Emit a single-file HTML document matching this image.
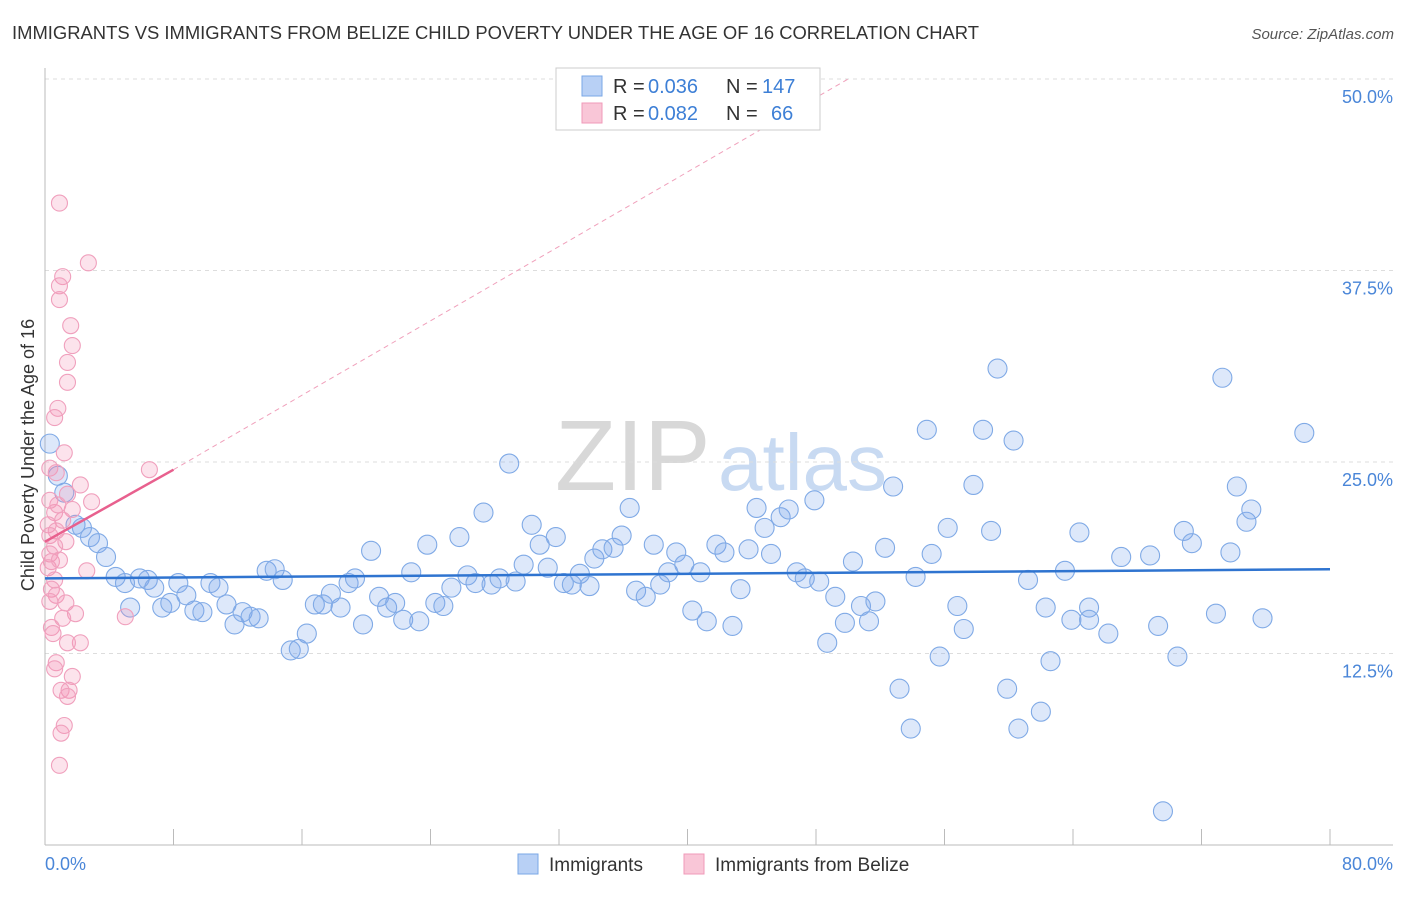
<!DOCTYPE html>
<html><head><meta charset="utf-8"><style>
body{margin:0;background:#fff;font-family:"Liberation Sans",sans-serif;}
svg text{font-family:"Liberation Sans",sans-serif;}
</style></head><body>
<svg id="chart" width="1406" height="892">
<text x="12" y="39" font-size="18" fill="#333" textLength="967" lengthAdjust="spacingAndGlyphs">IMMIGRANTS VS IMMIGRANTS FROM BELIZE CHILD POVERTY UNDER THE AGE OF 16 CORRELATION CHART</text>
<text x="1394" y="39" font-size="15" fill="#555" font-style="italic" text-anchor="end">Source: ZipAtlas.com</text>
<text x="555" y="490" font-size="100" fill="#d8d8d8" font-family="Liberation Serif">ZIP</text>
<text x="718" y="490" font-size="80" fill="#c8daf2">atlas</text>
<g id="grid"></g>
<g id="axes"></g>
<g id="marks"></g>
<text transform="translate(34,455) rotate(-90)" font-size="18" fill="#333" text-anchor="middle">Child Poverty Under the Age of 16</text>
<text x="45" y="870" font-size="18" fill="#4a86d8">0.0%</text>
<text x="1393" y="870" font-size="18" fill="#4a86d8" text-anchor="end">80.0%</text>
<g>
<rect x="556" y="68" width="264" height="62" fill="#fff" stroke="#ccc"/>
<rect x="582" y="76" width="20" height="20" fill="#b8d0f5" stroke="#7aa7e6"/>
<text x="613" y="93" font-size="20" fill="#333">R =</text>
<text x="648" y="93" font-size="20" fill="#3d7fd6">0.036</text>
<text x="726" y="93" font-size="20" fill="#333">N =</text>
<text x="762" y="93" font-size="20" fill="#3d7fd6">147</text>
<rect x="582" y="103" width="20" height="20" fill="#f9c6d7" stroke="#f09ab8"/>
<text x="613" y="120" font-size="20" fill="#333">R =</text>
<text x="648" y="120" font-size="20" fill="#3d7fd6">0.082</text>
<text x="726" y="120" font-size="20" fill="#333">N =</text>
<text x="771" y="120" font-size="20" fill="#3d7fd6">66</text>
</g>
<g>
<rect x="518" y="854" width="20" height="20" fill="#b8d0f5" stroke="#7aa7e6"/>
<text x="549" y="871" font-size="19" fill="#333">Immigrants</text>
<rect x="684" y="854" width="20" height="20" fill="#f9c6d7" stroke="#f09ab8"/>
<text x="715" y="871" font-size="19" fill="#333">Immigrants from Belize</text>
</g>
</svg>
<script>
const yTicks=[12.5,25,37.5,50];
const yTickLabels=["12.5%","25.0%","37.5%","50.0%"];
const xTicks=[0,8,16,24,32,40,48,56,64,72,80];
const blueX=[0.3,0.8,1.2,1.9,2.3,2.8,3.3,3.8,4.4,4.98,5.3,5.9,6.4,6.8,7.3,7.8,8.3,8.8,9.3,9.8,10.3,10.8,11.3,11.8,12.3,12.8,13.3,13.8,14.3,14.8,15.3,15.8,16.3,16.8,17.3,17.8,18.4,18.9,19.3,19.8,20.3,20.8,21.3,21.8,22.3,22.8,23.3,23.8,24.3,24.8,25.3,25.8,26.3,26.8,27.3,27.8,28.3,28.9,29.3,29.8,30.3,30.8,31.3,31.8,32.3,32.8,33.3,33.9,34.2,34.7,35.4,35.9,36.4,36.8,37.4,37.9,38.3,38.8,39.3,39.8,40.3,40.8,41.2,41.8,42.3,42.8,43.3,43.8,44.3,44.8,45.2,45.8,46.3,46.8,47.3,47.9,48.2,48.7,49.2,49.8,50.3,50.8,51.3,51.7,52.3,52.8,53.2,53.9,54.2,54.9,55.2,55.7,56.2,56.8,57.2,57.8,58.4,58.9,59.3,59.9,60.3,60.6,61.2,62.0,62.3,62.6,63.5,63.9,64.4,65.0,65.0,66.2,67.0,68.8,69.3,69.6,70.5,70.9,71.4,72.9,73.3,73.8,74.2,74.8,75.1,75.8,78.4];
const blueY=[26.2,24.1,23.0,20.9,20.7,20.1,19.7,18.8,17.5,17.1,15.5,17.4,17.3,16.8,15.5,15.8,17.1,16.3,15.3,15.2,17.1,16.8,15.7,14.4,15.2,14.9,14.8,17.9,18.0,17.3,12.7,12.8,13.8,15.7,15.7,16.4,15.5,17.1,17.4,14.4,19.2,16.2,15.5,15.8,14.7,17.8,14.6,19.6,15.8,15.6,16.8,20.1,17.6,17.1,21.7,17.0,17.4,24.9,17.2,18.3,20.9,19.6,18.1,20.1,17.1,17.0,17.7,16.9,18.7,19.3,19.4,20.2,22.0,16.6,16.2,19.6,17.0,17.8,19.1,18.3,15.3,17.8,14.6,19.6,19.1,14.3,16.7,19.3,22.0,20.7,19.0,21.4,21.9,17.8,17.4,22.5,17.2,13.2,16.2,14.5,18.5,15.6,14.6,15.9,19.4,23.4,10.2,7.6,17.5,27.1,19.0,12.3,20.7,15.6,14.1,23.5,27.1,20.5,31.1,10.2,26.4,7.6,17.3,8.7,15.5,12.0,17.9,14.7,20.4,15.5,14.7,13.8,18.8,18.9,14.3,2.2,12.3,20.5,19.7,15.1,30.5,19.1,23.4,21.1,21.9,14.8,26.9];
const pinkX=[0.9,2.7,1.1,0.9,0.9,1.6,1.7,1.4,1.4,0.8,0.6,1.2,0.3,0.7,6.5,2.2,1.4,2.9,0.3,1.7,0.6,1.1,0.2,0.7,0.3,1.3,0.6,0.3,0.4,0.2,2.6,0.6,0.4,0.7,0.3,1.3,1.9,1.1,5.0,0.4,0.5,2.2,1.4,0.7,0.6,1.7,1.5,1.0,1.4,1.2,1.0,0.9,0.9,0.8];
const pinkY=[41.9,38.0,37.1,36.5,35.6,33.9,32.6,31.5,30.2,28.5,27.9,25.6,24.6,24.3,24.5,23.5,22.9,22.4,22.5,21.9,21.7,21.2,20.9,20.5,20.2,19.8,19.5,19.0,18.5,18.1,17.9,17.3,16.7,16.3,15.9,15.8,15.1,14.8,14.9,14.2,13.8,13.2,13.2,11.9,11.5,11.0,10.1,10.1,9.7,7.8,7.3,5.2,18.6,22.2];
const blueTrend=[[0,17.4],[80,18.0]];
const pinkTrend=[[0,19.8],[8,24.5]];
const pinkTrendExt=[[8,24.5],[50,50]];

const NS="http://www.w3.org/2000/svg";
const X0=45,X1=1330,Y0=845,YS=(845-79)/50;
function xs(v){return X0+v*(X1-X0)/80;}
function ys(v){return Y0-v*YS;}
function mk(tag,attrs,parent){const e=document.createElementNS(NS,tag);for(const k in attrs)e.setAttribute(k,attrs[k]);parent.appendChild(e);return e;}
const grid=document.getElementById('grid'),axes=document.getElementById('axes'),marks=document.getElementById('marks');
yTicks.forEach((t,i)=>{
  const l=mk('line',{x1:45,x2:1393,y1:ys(t),y2:ys(t),stroke:'#ddd','stroke-dasharray':'4,4'},grid);
  
  
  const tx=mk('text',{x:1393,y:ys(t)+24,'font-size':18,fill:'#4a86d8','text-anchor':'end'},grid);
  tx.textContent=yTickLabels[i];
  
  
});
const ya=mk('line',{x1:45,x2:45,y1:68,y2:845,stroke:'#bbb'},axes);


const xa=mk('line',{x1:45,x2:1393,y1:845,y2:845,stroke:'#bbb'},axes);


xTicks.forEach(t=>{
  const l=mk('line',{x1:xs(t),x2:xs(t),y1:829,y2:845,stroke:'#bbb'},axes);
  
  
});
blueX.forEach((v,i)=>{
  const c=mk('circle',{cx:xs(v),cy:ys(blueY[i]),r:9.5,fill:'rgba(120,165,235,0.25)',stroke:'#80aae6','stroke-width':1.1},marks);
  
  
});
pinkX.forEach((v,i)=>{
  const c=mk('circle',{cx:xs(v),cy:ys(pinkY[i]),r:8,fill:'rgba(245,145,180,0.25)',stroke:'#f0a0bd','stroke-width':1.1},marks);
  
  
});
const bt=mk('line',{x1:xs(blueTrend[0][0]),y1:ys(blueTrend[0][1]),x2:xs(blueTrend[1][0]),y2:ys(blueTrend[1][1]),stroke:'#2f74d0','stroke-width':2.5},marks);


const pt=mk('line',{x1:xs(pinkTrend[0][0]),y1:ys(pinkTrend[0][1]),x2:xs(pinkTrend[1][0]),y2:ys(pinkTrend[1][1]),stroke:'#e8608e','stroke-width':2.5},marks);


const pe=mk('line',{x1:xs(pinkTrendExt[0][0]),y1:ys(pinkTrendExt[0][1]),x2:xs(pinkTrendExt[1][0]),y2:ys(pinkTrendExt[1][1]),stroke:'#f0a0bb','stroke-width':1,'stroke-dasharray':'5,4'},marks);


</script>
</body></html>
